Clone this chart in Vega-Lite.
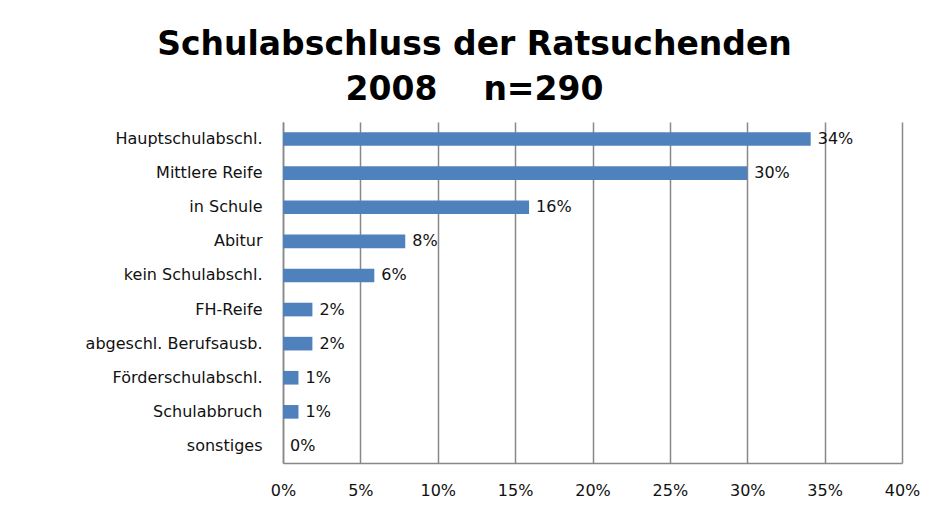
{
  "$schema": "https://vega.github.io/schema/vega-lite/v6.json",
  "width": 619,
  "height": 341,
  "autosize": {"type": "none"},
  "padding": {"left": 283, "top": 122, "right": 34, "bottom": 57},
  "background": "white",
  "title": {
    "text": ["Schulabschluss der Ratsuchenden", "2008\u00a0\u00a0\u00a0\u00a0n=290"],
    "anchor": "middle",
    "frame": "group",
    "dx": -118,
    "offset": 15,
    "font": "DejaVu Sans",
    "fontSize": 33,
    "fontWeight": "bold",
    "lineHeight": 45,
    "color": "#000000"
  },
  "data": {
    "values": [
      {"kategorie": "Hauptschulabschl.", "anteil": 0.341},
      {"kategorie": "Mittlere Reife", "anteil": 0.300},
      {"kategorie": "in Schule", "anteil": 0.159},
      {"kategorie": "Abitur", "anteil": 0.079},
      {"kategorie": "kein Schulabschl.", "anteil": 0.059},
      {"kategorie": "FH-Reife", "anteil": 0.019},
      {"kategorie": "abgeschl. Berufsausb.", "anteil": 0.019},
      {"kategorie": "Förderschulabschl.", "anteil": 0.010},
      {"kategorie": "Schulabbruch", "anteil": 0.010},
      {"kategorie": "sonstiges", "anteil": 0.0}
    ]
  },
  "encoding": {
    "y": {
      "field": "kategorie",
      "type": "nominal",
      "sort": null,
      "title": null,
      "scale": {"paddingInner": 0.6, "paddingOuter": 0.3},
      "axis": {
        "domain": true,
        "domainColor": "#888888",
        "domainWidth": 1.5,
        "ticks": false,
        "labelPadding": 21,
        "labelFont": "DejaVu Sans",
        "labelFontSize": 16,
        "labelColor": "#111111",
        "grid": false
      }
    },
    "x": {
      "field": "anteil",
      "type": "quantitative",
      "title": null,
      "scale": {"domain": [0, 0.4], "nice": false},
      "axis": {
        "format": ".0%",
        "values": [0, 0.05, 0.1, 0.15, 0.2, 0.25, 0.3, 0.35, 0.4],
        "grid": true,
        "gridColor": "#888888",
        "gridWidth": 1.5,
        "domain": true,
        "domainColor": "#888888",
        "domainWidth": 1.5,
        "ticks": false,
        "labelFlush": false,
        "labelOverlap": false,
        "labelPadding": 19,
        "labelFont": "DejaVu Sans",
        "labelFontSize": 16,
        "labelColor": "#111111"
      }
    }
  },
  "layer": [
    {
      "mark": {"type": "bar", "color": "#4F81BD"}
    },
    {
      "mark": {
        "type": "text",
        "align": "left",
        "baseline": "middle",
        "dx": 7,
        "font": "DejaVu Sans",
        "fontSize": 16,
        "color": "#111111"
      },
      "encoding": {
        "text": {"field": "anteil", "type": "quantitative", "format": ".0%"}
      }
    }
  ],
  "config": {
    "view": {"stroke": null}
  }
}
